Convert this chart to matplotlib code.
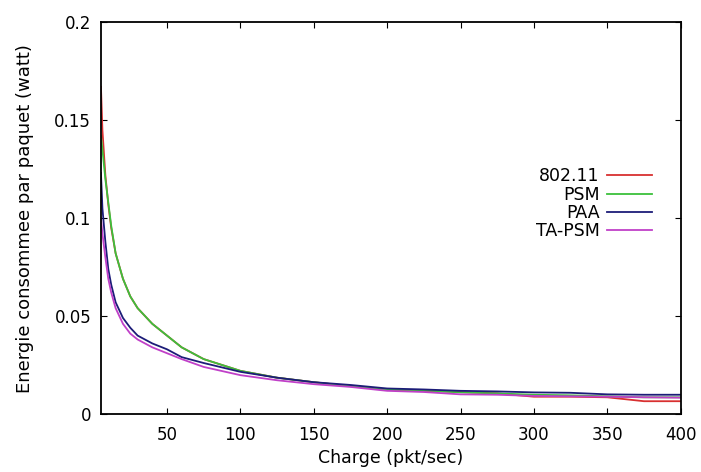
import matplotlib
matplotlib.use("Agg")
import matplotlib.pyplot as plt

plt.rcParams['font.family'] = ['DejaVu Sans']

# charge (pkt/sec)
charge = [5, 6, 8, 10, 12, 15, 20, 25, 30, 40, 50, 60, 75, 100, 125,
          150, 175, 200, 225, 250, 275, 300, 325, 350, 375, 400]

# energie consommee par paquet (watt)
e_80211 = [0.167, 0.145, 0.122, 0.107, 0.095, 0.082, 0.069, 0.060, 0.054, 0.046,
           0.040, 0.034, 0.028, 0.022, 0.0185, 0.0162, 0.0142, 0.0125, 0.0118,
           0.0112, 0.0105, 0.0088, 0.0088, 0.0085, 0.0065, 0.0065]
e_psm = [0.142, 0.135, 0.120, 0.108, 0.096, 0.082, 0.069, 0.060, 0.054, 0.046,
         0.040, 0.034, 0.028, 0.022, 0.0185, 0.0162, 0.0142, 0.0125, 0.0120,
         0.0110, 0.0105, 0.0098, 0.0095, 0.0090, 0.0085, 0.0085]
e_paa = [0.123, 0.105, 0.088, 0.074, 0.066, 0.057, 0.049, 0.044, 0.040, 0.036,
         0.033, 0.029, 0.026, 0.0215, 0.0185, 0.0162, 0.0148, 0.0130, 0.0125,
         0.0118, 0.0115, 0.0110, 0.0108, 0.0100, 0.0098, 0.0098]
e_tapsm = [0.100, 0.092, 0.080, 0.069, 0.062, 0.054, 0.046, 0.041, 0.038, 0.034,
           0.031, 0.028, 0.024, 0.0198, 0.0172, 0.0152, 0.0138, 0.0118, 0.0112,
           0.0100, 0.0098, 0.0092, 0.0090, 0.0088, 0.0085, 0.0083]

series = [("802.11", e_80211, "#d83030"),
          ("PSM", e_psm, "#3cc03c"),
          ("PAA", e_paa, "#1c1c78"),
          ("TA-PSM", e_tapsm, "#c040c8")]

fig = plt.figure(figsize=(7.01, 4.72), dpi=100)
ax = fig.add_axes([0.144, 0.123, 0.827, 0.830])

for name, vals, col in series:
    ax.plot(charge, vals, color=col, lw=1.3, label=name)

ax.set_xlim(5, 400)
ax.set_ylim(0, 0.2)
ax.set_xticks([50, 100, 150, 200, 250, 300, 350, 400])
ax.set_yticks([0, 0.05, 0.1, 0.15, 0.2])
ax.set_yticklabels(["0", "0.05", "0.1", "0.15", "0.2"])
ax.tick_params(direction='in', top=True, right=True, length=4, labelsize=12)
ax.tick_params(axis='x', pad=9)
ax.tick_params(axis='y', pad=7)
for s in ax.spines.values():
    s.set_linewidth(1.3)

ax.set_xlabel("Charge (pkt/sec)", fontsize=12.5, labelpad=3)
ax.set_ylabel("Energie consommee par paquet (watt)", fontsize=13, labelpad=15)

ax.legend(loc='center right', bbox_to_anchor=(0.95, 0.536), frameon=False,
          markerfirst=False, fontsize=12.5, handlelength=2.6, borderpad=0,
          borderaxespad=0, labelspacing=0.02, handletextpad=0.4)

fig.savefig("out.png", dpi=100)
